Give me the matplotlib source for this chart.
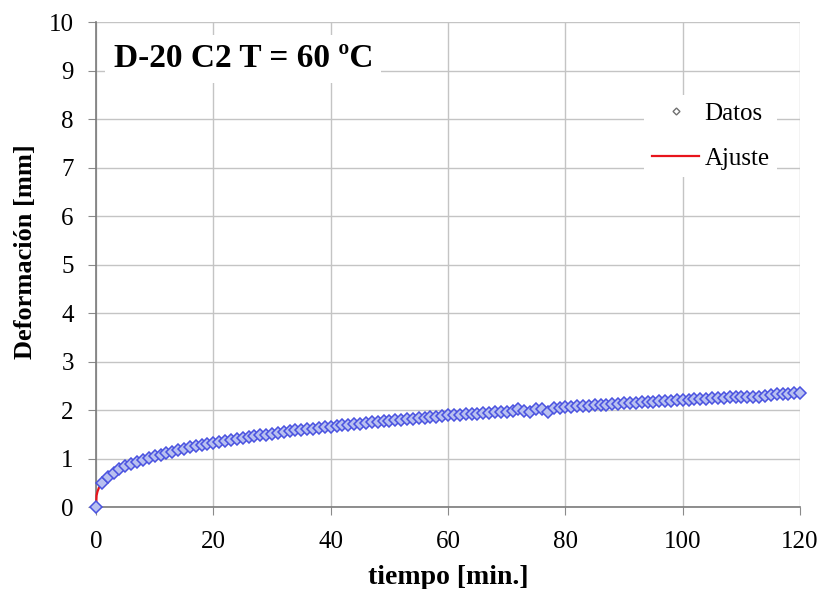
import matplotlib
matplotlib.use("Agg")
import matplotlib.pyplot as plt

# Measured creep deformation, one reading per minute
tiempo = list(range(0, 121))
deformacion = [
    0.00, 0.50, 0.62, 0.71, 0.78, 0.84, 0.89, 0.94, 0.98, 1.02, 1.05,
    1.08, 1.11, 1.14, 1.17, 1.20, 1.23, 1.25, 1.28, 1.30, 1.33,
    1.34, 1.36, 1.38, 1.40, 1.42, 1.44, 1.46, 1.48, 1.49, 1.51,
    1.53, 1.55, 1.56, 1.58, 1.59, 1.61, 1.62, 1.63, 1.65, 1.66,
    1.67, 1.69, 1.70, 1.71, 1.72, 1.73, 1.75, 1.76, 1.77, 1.78,
    1.79, 1.80, 1.81, 1.82, 1.83, 1.84, 1.85, 1.86, 1.87, 1.89,
    1.90, 1.90, 1.91, 1.92, 1.93, 1.94, 1.95, 1.96, 1.96, 1.97,
    1.99, 2.02, 1.99, 1.97, 2.03, 2.02, 1.97, 2.04, 2.05, 2.06,
    2.07, 2.08, 2.08, 2.09, 2.10, 2.11, 2.11, 2.12, 2.13, 2.14,
    2.14, 2.15, 2.16, 2.16, 2.17, 2.18, 2.18, 2.19, 2.20, 2.21,
    2.21, 2.22, 2.23, 2.23, 2.24, 2.25, 2.25, 2.26, 2.26, 2.27,
    2.28, 2.28, 2.27, 2.30, 2.31, 2.33, 2.34, 2.34, 2.35, 2.35,
]

# Fitted curve
t_ajuste = [0, 0.1, 0.25, 0.5, 1, 2, 3, 5, 7, 10, 15, 20, 30, 40, 50,
            60, 70, 80, 90, 100, 110, 120]
d_ajuste = [0.00, 0.24, 0.32, 0.40, 0.50, 0.62, 0.71, 0.84, 0.94, 1.05,
            1.20, 1.33, 1.51, 1.66, 1.78, 1.89, 1.97, 2.06, 2.14, 2.21,
            2.27, 2.35]

x_ticks = [0, 20, 40, 60, 80, 100, 120]
y_ticks = list(range(0, 11))

serif = ["Liberation Serif", "DejaVu Serif"]
plt.rcParams["font.family"] = serif

fig = plt.figure(figsize=(8.24, 5.89), dpi=100)
ax = fig.add_axes([0.1165, 0.139, 0.8545, 0.8236])

ax.plot(t_ajuste, d_ajuste, color="#e8141c", lw=1.6, zorder=3,
        clip_on=False)
ax.plot(tiempo, deformacion, ls="none", marker="D", ms=5.8,
        mec="#4a52e0", mfc="#b8c0f0", mew=1.1, zorder=4, clip_on=False)

ax.set_xlim(0, 120)
ax.set_ylim(0, 10)
ax.set_xticks(x_ticks)
ax.set_yticks(y_ticks)
ax.grid(True, color="#c4c4c4", lw=1.0)
ax.set_axisbelow(True)
for s in ("top", "right"):
    ax.spines[s].set_visible(False)
for s in ("left", "bottom"):
    ax.spines[s].set_color("#7a7a7a")
    ax.spines[s].set_linewidth(1.2)
ax.tick_params(direction="out", length=6, color="#8a8a8a", labelsize=18)
ax.tick_params(axis="x", pad=11)
ax.tick_params(axis="y", pad=10)

ax.set_xlabel("tiempo [min.]", fontsize=20, fontweight="bold", labelpad=9)
ax.set_ylabel("Deformación [mm]", fontsize=19, fontweight="bold")
ax.yaxis.set_label_coords(-0.084, 0.526)

ax.text(0.025, 0.924, "D-20 C2 T = 60 ºC", transform=ax.transAxes,
        fontsize=24, fontweight="bold", va="center", ha="left",
        bbox=dict(facecolor="white", edgecolor="none", pad=6), zorder=5)

# Legend with a small gray diamond for the data and a red line for the fit
h_d = plt.Line2D([], [], ls="none", marker="D", ms=3.5, mec="#707070",
                 mfc="white", mew=1.0)
h_a = plt.Line2D([], [], color="#e8141c", lw=1.6)
leg = ax.legend([h_d, h_a], ["Datos", "Ajuste"], loc="upper right",
                bbox_to_anchor=(0.985, 0.876), frameon=True, fontsize=18,
                handlelength=1.9, handletextpad=0.2, labelspacing=0.9,
                borderpad=0.3)
leg.get_frame().set_edgecolor("none")
leg.get_frame().set_facecolor("white")
leg.get_frame().set_alpha(1.0)

fig.savefig("out.png", dpi=100)
